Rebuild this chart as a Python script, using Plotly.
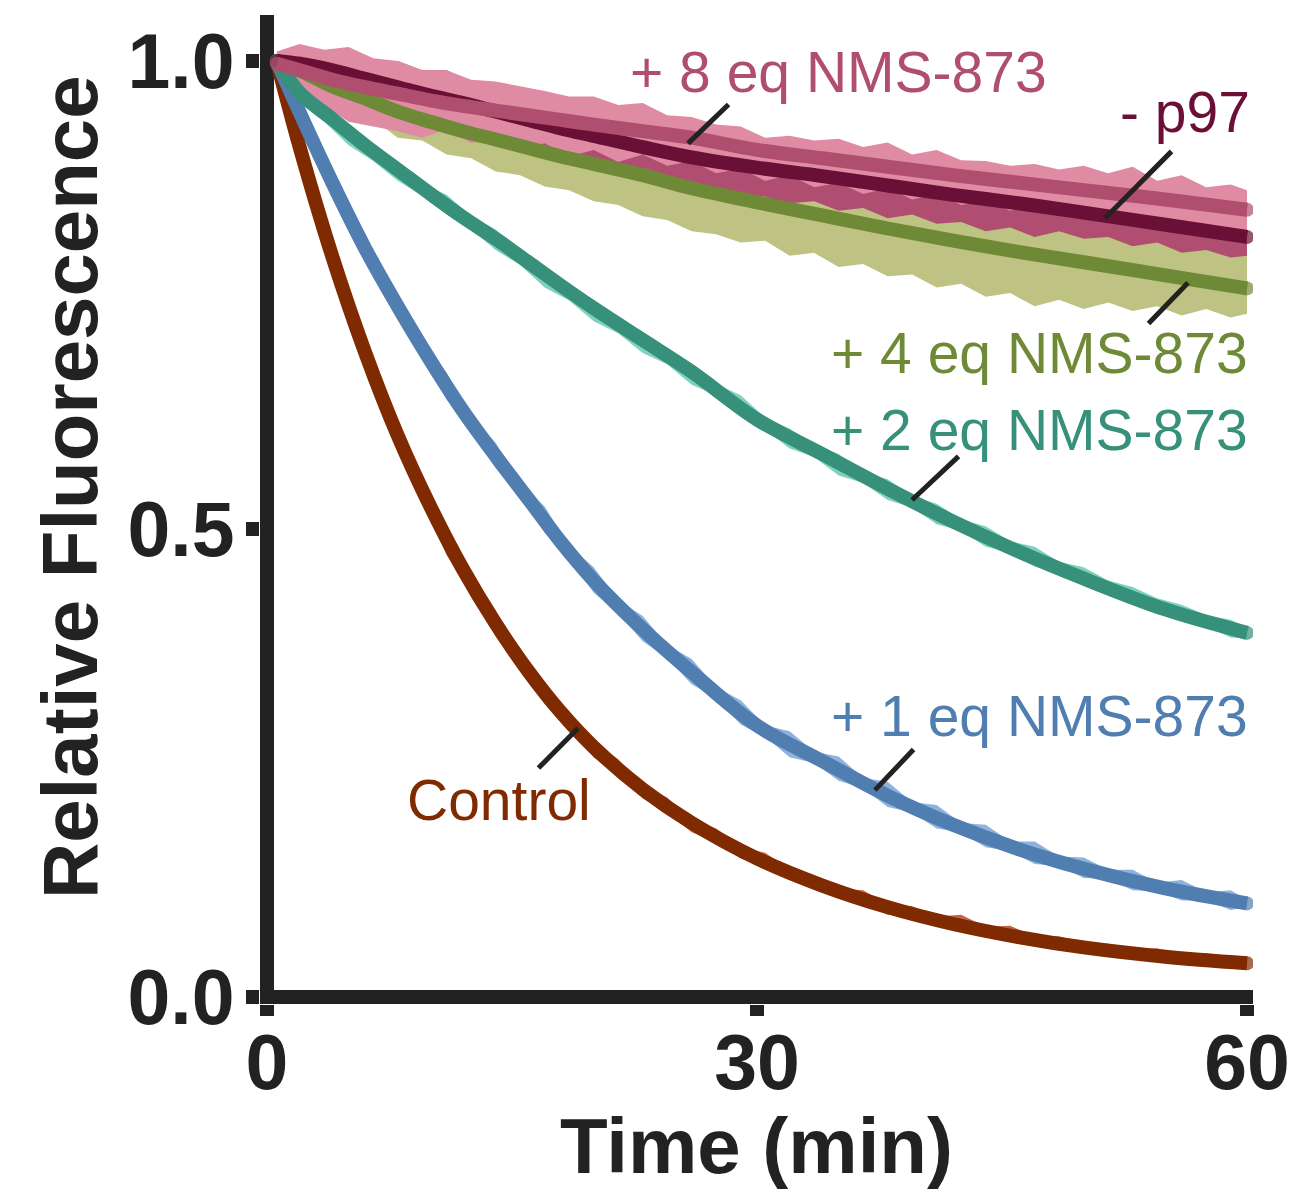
import plotly.graph_objects as go

# ---------------- data ----------------
# fitted curves (min, relative fluorescence)
t_fit = [0.6, 2, 4, 6, 8, 10, 12, 14, 16, 18, 20, 23, 26, 30, 34, 38, 42, 46, 50, 55, 60]
fit_control = [1.00, 0.908, 0.791, 0.689, 0.60, 0.524, 0.457, 0.399, 0.348, 0.304, 0.267, 0.222, 0.186,
               0.148, 0.119, 0.096, 0.078, 0.064, 0.053, 0.043, 0.036]
fit_1eq = [1.0, 0.945, 0.87, 0.80, 0.738, 0.68, 0.626, 0.578, 0.532, 0.486, 0.445, 0.393, 0.347, 0.29,
           0.252, 0.215, 0.184, 0.158, 0.137, 0.116, 0.100]
fit_2eq = [1.0, 0.966, 0.938, 0.91, 0.884, 0.858, 0.833, 0.81, 0.785, 0.76, 0.736, 0.702, 0.668, 0.617,
           0.58, 0.543, 0.508, 0.476, 0.447, 0.414, 0.389]
fit_4eq = [1.0, 0.99, 0.973, 0.96, 0.946, 0.935, 0.925, 0.916, 0.907, 0.898, 0.89, 0.878, 0.864, 0.849,
           0.835, 0.821, 0.808, 0.796, 0.785, 0.771, 0.757]
fit_8eq = [0.997, 0.99, 0.98, 0.972, 0.965, 0.958, 0.952, 0.947, 0.942, 0.937, 0.932, 0.925, 0.918, 0.905,
           0.896, 0.887, 0.878, 0.87, 0.862, 0.852, 0.841]
fit_nop97 = [1.0, 0.997, 0.99, 0.981, 0.972, 0.963, 0.955, 0.946, 0.937, 0.928, 0.92, 0.908, 0.897, 0.886,
             0.877, 0.867, 0.857, 0.848, 0.838, 0.825, 0.812]

# raw data envelopes (replicate spread)
t_raw = [0.6, 2, 3.5, 5, 6.5, 8, 9.5, 11, 12.5, 14, 15.5, 17, 18.5, 20, 21.5, 23, 24.5, 26, 27.5, 29,
         30.5, 32, 33.5, 35, 36.5, 38, 39.5, 41, 42.5, 44, 45.5, 47, 48.5, 50, 51.5, 53, 54.5, 56, 57.5, 59, 60]

control_hi = [1.005, 0.916, 0.835, 0.748, 0.68, 0.61, 0.552, 0.49, 0.45, 0.404, 0.373, 0.33, 0.305, 0.272,
              0.254, 0.226, 0.213, 0.19, 0.18, 0.16, 0.154, 0.136, 0.13, 0.116, 0.114, 0.099, 0.097, 0.086,
              0.088, 0.075, 0.076, 0.065, 0.065, 0.057, 0.057, 0.05, 0.052, 0.045, 0.047, 0.04, 0.04]
control_lo = [0.995, 0.898, 0.808, 0.733, 0.66, 0.59, 0.531, 0.472, 0.43, 0.385, 0.352, 0.313, 0.287, 0.256,
              0.238, 0.212, 0.197, 0.176, 0.165, 0.148, 0.138, 0.125, 0.117, 0.105, 0.1, 0.088, 0.086, 0.075,
              0.073, 0.064, 0.063, 0.056, 0.054, 0.048, 0.048, 0.041, 0.042, 0.036, 0.036, 0.031, 0.033]

eq1_hi = [1.004, 0.956, 0.897, 0.848, 0.79, 0.752, 0.7, 0.667, 0.62, 0.592, 0.549, 0.524, 0.482, 0.459,
          0.424, 0.407, 0.376, 0.361, 0.331, 0.317, 0.29, 0.284, 0.262, 0.257, 0.234, 0.23, 0.208, 0.205,
          0.186, 0.184, 0.166, 0.166, 0.15, 0.149, 0.136, 0.136, 0.122, 0.125, 0.112, 0.114, 0.104]
eq1_lo = [0.996, 0.934, 0.879, 0.82, 0.775, 0.724, 0.686, 0.638, 0.606, 0.565, 0.536, 0.496, 0.469, 0.432,
          0.41, 0.38, 0.362, 0.334, 0.319, 0.291, 0.278, 0.256, 0.25, 0.231, 0.223, 0.203, 0.197, 0.18,
          0.176, 0.16, 0.156, 0.142, 0.14, 0.127, 0.126, 0.114, 0.113, 0.103, 0.103, 0.093, 0.096]

eq2_hi = [1.004, 0.972, 0.953, 0.93, 0.907, 0.893, 0.868, 0.857, 0.834, 0.82, 0.795, 0.781, 0.757, 0.742,
          0.721, 0.711, 0.688, 0.676, 0.655, 0.643, 0.619, 0.607, 0.59, 0.58, 0.561, 0.553, 0.535, 0.527,
          0.51, 0.503, 0.487, 0.481, 0.465, 0.459, 0.445, 0.438, 0.426, 0.419, 0.408, 0.403, 0.395]
eq2_lo = [0.996, 0.955, 0.935, 0.91, 0.893, 0.872, 0.856, 0.836, 0.82, 0.798, 0.782, 0.758, 0.744, 0.722,
          0.709, 0.688, 0.676, 0.654, 0.643, 0.62, 0.606, 0.586, 0.577, 0.557, 0.549, 0.531, 0.523, 0.505,
          0.498, 0.481, 0.475, 0.46, 0.453, 0.439, 0.433, 0.419, 0.414, 0.402, 0.396, 0.384, 0.383]

eq4_hi = [1.005, 1.0, 0.99, 0.982, 0.975, 0.968, 0.962, 0.957, 0.952, 0.948, 0.943, 0.938, 0.933, 0.928,
          0.924, 0.918, 0.914, 0.906, 0.902, 0.896, 0.89, 0.886, 0.88, 0.876, 0.871, 0.866, 0.86, 0.856,
          0.85, 0.847, 0.84, 0.838, 0.832, 0.829, 0.823, 0.82, 0.814, 0.81, 0.805, 0.802, 0.799]
eq4_lo = [0.995, 0.982, 0.962, 0.944, 0.938, 0.918, 0.915, 0.9, 0.896, 0.882, 0.878, 0.866, 0.862, 0.85,
          0.846, 0.834, 0.83, 0.818, 0.815, 0.806, 0.808, 0.792, 0.795, 0.78, 0.783, 0.77, 0.772, 0.758,
          0.762, 0.748, 0.752, 0.738, 0.745, 0.735, 0.742, 0.733, 0.738, 0.728, 0.735, 0.726, 0.73]

eq8_hi = [1.01, 1.018, 1.012, 1.015, 1.003, 1.0, 0.99, 0.99, 0.98, 0.978, 0.973, 0.968, 0.962, 0.962,
          0.953, 0.955, 0.942, 0.94, 0.932, 0.93, 0.918, 0.92, 0.915, 0.917, 0.908, 0.913, 0.9, 0.905,
          0.894, 0.893, 0.888, 0.89, 0.884, 0.888, 0.88, 0.887, 0.872, 0.878, 0.865, 0.868, 0.862]
eq8_lo = [0.99, 0.965, 0.952, 0.935, 0.93, 0.925, 0.918, 0.927, 0.912, 0.918, 0.905, 0.912, 0.898, 0.905,
          0.892, 0.9, 0.888, 0.893, 0.88, 0.885, 0.872, 0.878, 0.865, 0.87, 0.858, 0.864, 0.852, 0.858,
          0.846, 0.85, 0.84, 0.846, 0.835, 0.84, 0.83, 0.835, 0.826, 0.83, 0.82, 0.822, 0.815]

nop97_hi = [1.008, 1.017, 1.005, 1.01, 0.998, 1.0, 0.99, 0.99, 0.978, 0.975, 0.966, 0.962, 0.955, 0.95,
            0.94, 0.937, 0.928, 0.925, 0.916, 0.915, 0.905, 0.908, 0.9, 0.902, 0.895, 0.898, 0.888, 0.896,
            0.882, 0.882, 0.874, 0.876, 0.868, 0.87, 0.86, 0.862, 0.85, 0.866, 0.845, 0.848, 0.84]
nop97_lo = [0.995, 0.975, 0.97, 0.958, 0.952, 0.946, 0.94, 0.93, 0.926, 0.918, 0.912, 0.903, 0.9, 0.892,
            0.886, 0.88, 0.873, 0.87, 0.864, 0.858, 0.855, 0.848, 0.85, 0.84, 0.843, 0.832, 0.836, 0.826,
            0.828, 0.818, 0.822, 0.812, 0.818, 0.81, 0.812, 0.802, 0.806, 0.795, 0.798, 0.79, 0.792]

labels = ["Control", "+ 1 eq NMS-873", "+ 2 eq NMS-873", "+ 4 eq NMS-873", "- p97", "+ 8 eq NMS-873"]
x_ticks = ["0", "30", "60"]
y_ticks = ["0.0", "0.5", "1.0"]

# label anchor (right edge x, vertical centre y) and leader line (tip on curve, tail)
label_x = [19.98, 60.2, 60.2, 60.2, 60.3, 47.9]
label_y = [0.2105, 0.300, 0.606, 0.688, 0.946, 0.9877]
leader_tip_t = [19.04, 37.22, 39.49, 56.39, 51.31, 25.78]
leader_tip_v = [0.287, 0.221, 0.531, 0.763, 0.832, 0.912]
leader_tail_t = [16.53, 39.67, 42.43, 53.88, 55.47, 28.35]
leader_tail_v = [0.243, 0.266, 0.579, 0.718, 0.905, 0.955]

# ---------------- styles ----------------
line_colors = ["#7F2A00", "#507EB1", "#36907A", "#6F8A37", "#6A1037", "#AF4E6F"]
band_colors = ["#C0654A", "#8EB1DD", "#7DD3BF", "#BEC383", "#B04E72", "#DE8BA3"]
fits = [fit_control, fit_1eq, fit_2eq, fit_4eq, fit_nop97, fit_8eq]
his = [control_hi, eq1_hi, eq2_hi, eq4_hi, nop97_hi, eq8_hi]
los = [control_lo, eq1_lo, eq2_lo, eq4_lo, nop97_lo, eq8_lo]
AX = "#222222"
FONT = "Liberation Sans, Arial, Helvetica, sans-serif"

fig = go.Figure()

# envelopes
for i in range(6):
    fig.add_trace(go.Scatter(x=t_raw, y=los[i], mode="lines", line=dict(width=0, color=band_colors[i]),
                             hoverinfo="skip", showlegend=False))
    fig.add_trace(go.Scatter(x=t_raw, y=his[i], mode="lines", line=dict(width=0, color=band_colors[i]),
                             fill="tonexty", fillcolor=band_colors[i], hoverinfo="skip", showlegend=False))

# fitted lines (round end caps via end markers)
n = len(t_fit)
cap_sizes = [14] + [0] * (n - 2) + [14]
for i in range(6):
    fig.add_trace(go.Scatter(x=t_fit, y=fits[i], mode="lines+markers",
                             line=dict(width=14, color=line_colors[i], shape="spline", smoothing=1),
                             marker=dict(size=cap_sizes, color=line_colors[i], line=dict(width=0)),
                             showlegend=False))

annotations = []
for i, txt in enumerate(labels):
    annotations.append(dict(x=label_x[i], y=label_y[i], xref="x", yref="y", text=txt, showarrow=False,
                            xanchor="right", yanchor="middle",
                            font=dict(family=FONT, size=57, color=line_colors[i])))
    annotations.append(dict(x=leader_tip_t[i], y=leader_tip_v[i], ax=leader_tail_t[i], ay=leader_tail_v[i],
                            xref="x", yref="y", axref="x", ayref="y", text="", showarrow=True,
                            arrowhead=0, arrowwidth=5, arrowcolor=AX, standoff=0, startstandoff=0,
                            font=dict(size=1)))

# axis titles
annotations.append(dict(x=-0.1913, y=0.5227, xref="paper", yref="paper", text="Relative Fluorescence",
                        textangle=-90, showarrow=False, xanchor="center", yanchor="middle",
                        font=dict(family=FONT, size=78, color=AX, weight="bold")))
annotations.append(dict(x=0.5, y=-0.1436, xref="paper", yref="paper", text="Time (min)",
                        showarrow=False, xanchor="center", yanchor="middle",
                        font=dict(family=FONT, size=78, color=AX, weight="bold")))

fig.update_layout(
    width=1291, height=1194, autosize=False,
    margin=dict(l=260, r=38, t=15, b=190),
    plot_bgcolor="white", paper_bgcolor="white",
    showlegend=False,
    annotations=annotations,
    font=dict(family=FONT),
)
fig.update_xaxes(range=[-0.4286, 60.367], showgrid=False, showline=False, automargin=False,
                 zeroline=True, zerolinewidth=14, zerolinecolor=AX,
                 tickmode="array", tickvals=[0, 30, 60], ticktext=x_ticks,
                 ticks="outside", ticklen=11, tickwidth=14, tickcolor=AX, ticklabelstandoff=-19,
                 tickfont=dict(family=FONT, size=77, color=AX, weight="bold"))
fig.update_yaxes(range=[-0.00748, 1.0491], showgrid=False, showline=False, automargin=False,
                 zeroline=True, zerolinewidth=14, zerolinecolor=AX,
                 tickmode="array", tickvals=[0, 0.5, 1.0], ticktext=y_ticks,
                 ticks="outside", ticklen=13, tickwidth=14, tickcolor=AX, ticklabelstandoff=-4,
                 tickfont=dict(family=FONT, size=77, color=AX, weight="bold"))

fig.write_html("out.html", config={"responsive": False, "displayModeBar": False},
               post_script="document.body.style.margin='0px';document.body.style.overflow='hidden';")
